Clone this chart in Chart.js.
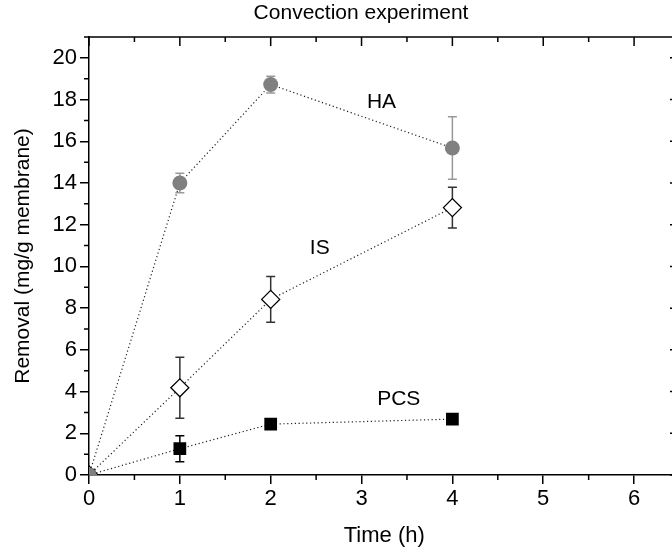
<!DOCTYPE html>
<html>
<head>
<meta charset="utf-8">
<script src="https://cdn.jsdelivr.net/npm/chart.js@4.4.0/dist/chart.umd.min.js"></script>
<style>
  html, body { margin: 0; padding: 0; background: #fff; overflow: hidden; }
  #wrap { width: 722px; height: 557px; }
</style>
</head>
<body>
<div id="wrap"><canvas id="chart" width="722" height="557"></canvas></div>
<script>
// Convection experiment: removal vs time

const times = [0, 1, 2, 4];

const haValues = [0, 14.0, 18.72, 15.68];
const haErrors = [0, 0.47, 0.4, 1.5];

const isValues = [0, 4.18, 8.42, 12.82];
const isErrors = [0, 1.46, 1.1, 0.98];

const pcsValues = [0, 1.26, 2.44, 2.68];
const pcsErrors = [0, 0.62, 0, 0];

const seriesNames = ["HA", "IS", "PCS"];

Chart.defaults.font.family = 'Arial, "Liberation Sans", sans-serif';
Chart.defaults.color = '#000';

const toPoints = vals => times.map((t, i) => ({ x: t, y: vals[i] }));

// where the series names sit (data units)
const namePos = [[3.22, 17.85], [2.54, 10.86], [3.41, 3.64]];

// error bars, drawn under the markers
const errorBars = {
  id: 'errorBars',
  beforeDatasetsDraw(chart) {
    const { ctx, scales: { x, y } } = chart;
    chart.data.datasets.forEach(ds => {
      ctx.save();
      ctx.strokeStyle = ds.errColor;
      ctx.lineWidth = 1.5;
      ctx.beginPath();
      ds.data.forEach((p, i) => {
        const e = ds.errs[i];
        if (!e) return;
        const px = x.getPixelForValue(p.x);
        const top = y.getPixelForValue(p.y + e);
        const bot = y.getPixelForValue(p.y - e);
        ctx.moveTo(px, top); ctx.lineTo(px, bot);
        ctx.moveTo(px - 4.5, top); ctx.lineTo(px + 4.5, top);
        ctx.moveTo(px - 4.5, bot); ctx.lineTo(px + 4.5, bot);
      });
      ctx.stroke();
      ctx.restore();
    });
  }
};

// box frame, minor ticks, inward ticks on top and right, series names
const frame = {
  id: 'frame',
  afterDraw(chart) {
    const { ctx, chartArea: a, scales: { x, y } } = chart;
    ctx.save();
    ctx.strokeStyle = '#000';
    ctx.lineWidth = 1.5;
    ctx.beginPath();
    ctx.moveTo(a.left, a.top); ctx.lineTo(a.right, a.top);
    ctx.moveTo(a.right, a.top); ctx.lineTo(a.right, a.bottom);
    for (let v = 0; v <= x.max; v += 0.5) {
      const px = x.getPixelForValue(v);
      const len = v % 1 === 0 ? 9 : 5;
      ctx.moveTo(px, a.top); ctx.lineTo(px, a.top + len);
      if (v % 1 !== 0) { ctx.moveTo(px, a.bottom); ctx.lineTo(px, a.bottom + len); }
    }
    for (let v = 0; v <= y.max; v += 1) {
      const py = y.getPixelForValue(v);
      const len = v % 2 === 0 ? 9.5 : 5;
      ctx.moveTo(a.right, py); ctx.lineTo(a.right - len, py);
      if (v % 2 !== 0) { ctx.moveTo(a.left, py); ctx.lineTo(a.left - len, py); }
    }
    ctx.stroke();

    ctx.fillStyle = '#000';
    ctx.font = '21px Arial, "Liberation Sans", sans-serif';
    ctx.textAlign = 'center';
    ctx.textBaseline = 'middle';
    seriesNames.forEach((name, i) => {
      ctx.fillText(name, x.getPixelForValue(namePos[i][0]), y.getPixelForValue(namePos[i][1]));
    });
    ctx.restore();
  }
};

const lineStyle = { borderColor: '#222', borderWidth: 1.2, borderDash: [1.2, 2.6], fill: false, tension: 0 };

new Chart(document.getElementById('chart'), {
  type: 'line',
  data: {
    datasets: [
      Object.assign({
        label: 'HA', data: toPoints(haValues), errs: haErrors, errColor: '#999',
        pointStyle: 'circle', pointRadius: 7.5,
        pointBackgroundColor: '#808080', pointBorderColor: '#808080', pointBorderWidth: 0
      }, lineStyle),
      Object.assign({
        label: 'IS', data: toPoints(isValues), errs: isErrors, errColor: '#333',
        pointStyle: 'rectRot', pointRadius: 9,
        pointBackgroundColor: '#fff', pointBorderColor: '#000', pointBorderWidth: 1.3
      }, lineStyle),
      Object.assign({
        label: 'PCS', data: toPoints(pcsValues), errs: pcsErrors, errColor: '#000',
        pointStyle: 'rect', pointRadius: 9,
        pointBackgroundColor: '#000', pointBorderColor: '#000', pointBorderWidth: 0
      }, lineStyle)
    ]
  },
  options: {
    responsive: false,
    animation: false,
    events: [],
    layout: { padding: 0 },
    plugins: {
      legend: { display: false },
      tooltip: { enabled: false },
      title: {
        display: true,
        text: 'Convection experiment',
        font: { size: 21, weight: 'normal' },
        padding: { top: 1, bottom: 10.8 }
      }
    },
    scales: {
      x: {
        type: 'linear',
        min: 0, max: 6.5,
        afterFit: s => { s.height = 82; },
        grid: { drawOnChartArea: false, color: '#000', lineWidth: 1.5, tickLength: 9 },
        border: { display: true, color: '#000', width: 1.5 },
        ticks: { stepSize: 1, includeBounds: false, padding: 2, font: { size: 22 } },
        title: { display: true, text: 'Time (h)', font: { size: 22 }, padding: { top: 0, bottom: 8 } }
      },
      y: {
        min: 0, max: 21,
        afterFit: s => { s.width = 89; },
        grid: { drawOnChartArea: false, color: '#000', lineWidth: 1.5, tickLength: 9 },
        border: { display: true, color: '#000', width: 1.5 },
        ticks: { stepSize: 2, includeBounds: false, padding: 3, font: { size: 22 } },
        title: { display: true, text: 'Removal (mg/g membrane)', font: { size: 21 }, padding: { top: 11 } }
      },
      // empty right-hand box: keeps the plot edge where the original has it
      yRight: {
        position: 'right',
        display: true,
        afterFit: s => { s.width = 42.5; },
        grid: { display: false },
        border: { display: false },
        ticks: { display: false }
      }
    }
  },
  plugins: [errorBars, frame]
});
</script>
</body>
</html>
